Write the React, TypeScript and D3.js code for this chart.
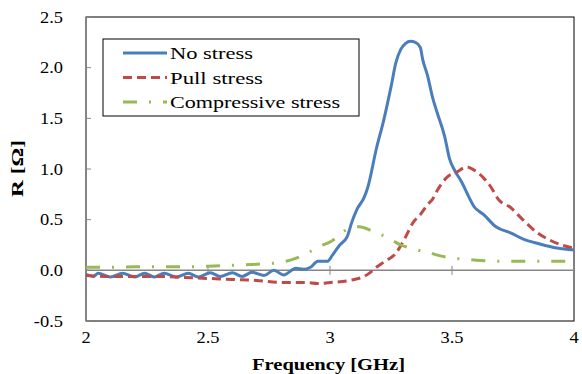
import React from "react";
import * as d3 from "d3";

// ---- data ----
const xTicks = [2, 2.5, 3, 3.5, 4];
const xTickLabels = ["2", "2.5", "3", "3.5", "4"];
const yTicks = [-0.5, 0, 0.5, 1, 1.5, 2, 2.5];
const yTickLabels = ["-0.5", "0.0", "0.5", "1.0", "1.5", "2.0", "2.5"];

const seriesNames = ["No stress", "Pull stress", "Compressive stress"];

const noStressF = [
  2.0, 2.03, 2.05, 2.1, 2.15, 2.2, 2.24, 2.28, 2.32, 2.37, 2.42, 2.46, 2.51, 2.55, 2.6, 2.64,
  2.68, 2.73, 2.77, 2.81, 2.86, 2.89, 2.92, 2.95, 2.99, 3.01, 3.04, 3.07, 3.09, 3.11, 3.14,
  3.155, 3.19, 3.22, 3.25, 3.27, 3.29, 3.31, 3.33, 3.35, 3.37, 3.38, 3.4, 3.42, 3.44,
  3.47, 3.49, 3.51, 3.54, 3.57, 3.59, 3.63, 3.68, 3.74, 3.79, 3.86, 3.93, 4.0,
];
const noStressR = [
  -0.04, -0.06, -0.03, -0.065, -0.03, -0.065, -0.03, -0.065, -0.03, -0.065, -0.03, -0.065,
  -0.025, -0.06, -0.025, -0.06, -0.02, -0.05, 0.0, -0.045, 0.02, 0.01, 0.03, 0.09, 0.09,
  0.15, 0.25, 0.33, 0.48, 0.6, 0.72, 0.82, 1.2, 1.48, 1.81, 2.05, 2.18, 2.24, 2.26,
  2.25, 2.2, 2.08, 1.92, 1.71, 1.55, 1.32, 1.1, 0.99, 0.87, 0.72, 0.63, 0.55, 0.43, 0.37,
  0.31, 0.26, 0.22, 0.2,
];

const pullF = [
  2.0, 2.1, 2.2, 2.3, 2.4, 2.5, 2.6, 2.7, 2.8, 2.9, 2.95, 3.0, 3.05, 3.1, 3.14, 3.16, 3.19,
  3.22, 3.27, 3.31, 3.34, 3.37, 3.4, 3.42, 3.44, 3.48, 3.52, 3.56, 3.59, 3.63, 3.66, 3.69,
  3.74, 3.79, 3.85, 3.9, 3.95, 4.0,
];
const pullR = [
  -0.05, -0.06, -0.06, -0.06, -0.07, -0.08, -0.09, -0.1, -0.12, -0.12, -0.13, -0.12, -0.11,
  -0.09, -0.06, -0.03, 0.03, 0.08, 0.17, 0.33, 0.47, 0.55, 0.65, 0.7, 0.79, 0.92, 0.97, 1.02,
  0.99, 0.91, 0.82, 0.7, 0.62, 0.5, 0.37, 0.3, 0.25, 0.22,
];

const compF = [
  2.0, 2.1, 2.2, 2.3, 2.4, 2.5, 2.6, 2.7, 2.8, 2.85, 2.9, 2.93, 2.97, 3.0, 3.03, 3.06, 3.09,
  3.12, 3.14, 3.17, 3.2, 3.23, 3.26, 3.29, 3.33, 3.36, 3.4, 3.44, 3.5, 3.55, 3.6, 3.7, 3.8,
  3.9, 4.0,
];
const compR = [
  0.03, 0.03, 0.035, 0.035, 0.035, 0.04, 0.05, 0.06, 0.08, 0.11, 0.16, 0.2, 0.25, 0.28, 0.33,
  0.39, 0.42, 0.43, 0.42, 0.39, 0.36, 0.33, 0.29, 0.25, 0.22, 0.2, 0.18, 0.15, 0.12, 0.11,
  0.1, 0.09, 0.09, 0.09, 0.09,
];

const colors = ["#4A7EBB", "#BE4B48", "#98B954"];
const dashes = ["none", "9,5", "14,12,2,12"];
const legendTextWidths = [83, 93, 170];

const font = "'Liberation Serif', 'Times New Roman', serif";

function SText(props: {
  x: number;
  y: number;
  size: number;
  sx: number;
  anchor: string;
  bold?: boolean;
  children: React.ReactNode;
}) {
  return (
    <text
      transform={`translate(${props.x},${props.y}) scale(${props.sx},1)`}
      textAnchor={props.anchor}
      fontSize={props.size}
      fontWeight={props.bold ? "bold" : "normal"}
      fontFamily={font}
      fill="#000"
    >
      {props.children}
    </text>
  );
}

export default function App() {
  const left = 86, right = 574, top = 17, bottom = 321;
  const x = d3.scaleLinear().domain([2, 4]).range([left, right]);
  const y = d3.scaleLinear().domain([-0.5, 2.5]).range([bottom, top]);
  const line = d3
    .line<[number, number]>()
    .x((d) => x(d[0]))
    .y((d) => y(d[1]))
    .curve(d3.curveMonotoneX);

  const series: [number, number][][] = [
    noStressF.map((f, i) => [f, noStressR[i]]),
    pullF.map((f, i) => [f, pullR[i]]),
    compF.map((f, i) => [f, compR[i]]),
  ];

  const y0 = y(0);

  return (
    <svg
      width={582}
      height={374}
      style={{ position: "absolute", left: 0, top: 0, background: "#fff" }}
      fontFamily={font}
    >
      <rect x={0} y={0} width={582} height={374} fill="#fff" />
      {/* plot frame */}
      <rect x={left} y={top} width={right - left} height={bottom - top} fill="none" stroke="#000" strokeWidth={1} />
      {/* y axis */}
      <line x1={left} x2={left} y1={top} y2={bottom} stroke="#868686" strokeWidth={1.5} />
      {yTicks.map((t, i) => (
        <g key={"yt" + i}>
          <line x1={left} x2={left + 5} y1={y(t)} y2={y(t)} stroke="#868686" strokeWidth={1} />
          <SText x={63} y={y(t) + 5.5} size={16} sx={1.15} anchor="end">
            {yTickLabels[i]}
          </SText>
        </g>
      ))}
      {/* x axis at y = 0 */}
      <line x1={left} x2={right} y1={y0} y2={y0} stroke="#868686" strokeWidth={1.5} />
      {xTicks.map((t, i) => (
        <g key={"xt" + i}>
          <line x1={x(t)} x2={x(t)} y1={y0 - 4.5} y2={y0 + 4.5} stroke="#868686" strokeWidth={1} />
          <SText x={x(t)} y={343} size={16} sx={1.15} anchor="middle">
            {xTickLabels[i]}
          </SText>
        </g>
      ))}
      {/* series */}
      {series.map((s, i) => (
        <path
          key={"s" + i}
          d={line(s) || ""}
          fill="none"
          stroke={colors[i]}
          strokeWidth={3}
          strokeDasharray={dashes[i]}
          strokeLinejoin="round"
        />
      ))}
      {/* legend */}
      <rect x={103} y={39} width={256} height={77} fill="#fff" stroke="#000" strokeWidth={1} />
      {seriesNames.map((n, i) => {
        const ly = 53 + i * 24.5;
        return (
          <g key={"lg" + i}>
            <line x1={123} x2={167} y1={ly} y2={ly} stroke={colors[i]} strokeWidth={3} strokeDasharray={dashes[i]} />
            <text
              x={170}
              y={ly + 6}
              fontSize={17.5}
              fill="#000"
              textLength={legendTextWidths[i]}
              lengthAdjust="spacingAndGlyphs"
            >
              {n}
            </text>
          </g>
        );
      })}
      {/* axis titles */}
      <text
        x={252}
        y={370}
        fontSize={17}
        fontWeight="bold"
        fill="#000"
        textLength={153}
        lengthAdjust="spacingAndGlyphs"
      >
        Frequency [GHz]
      </text>
      <text
        transform={`translate(23,197) rotate(-90)`}
        fontSize={17}
        fontWeight="bold"
        fill="#000"
        textLength={57}
        lengthAdjust="spacingAndGlyphs"
      >
        R [Ω]
      </text>
    </svg>
  );
}
